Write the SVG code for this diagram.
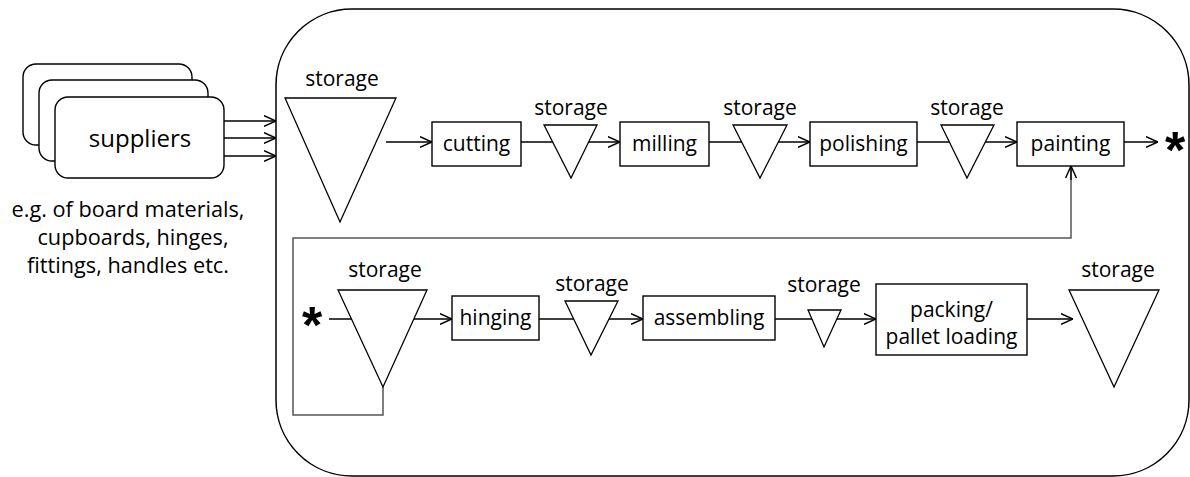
<svg xmlns="http://www.w3.org/2000/svg" width="1190" height="477" viewBox="0 0 1190 477">
<defs>
<marker id="arr" markerWidth="12" markerHeight="12" refX="10" refY="5" orient="auto" markerUnits="userSpaceOnUse" viewBox="0 0 10 10">
<path d="M0,0.5 L10,5 L0,9.5" fill="none" stroke="#000" stroke-width="1.2"/>
</marker>
</defs>
<style>
text{font-family:"Open Sans","Liberation Sans",sans-serif;fill:#000;text-anchor:middle}
.lbl{font-size:21px}
.cap{font-size:21.7px}
.box{fill:#fff;stroke:#000;stroke-width:1.4}
.tri{fill:#fff;stroke:#000;stroke-width:1.3}
.sup{fill:#fff;stroke:#000;stroke-width:1.4}
.ln{fill:none;stroke:#000;stroke-width:1.3}
.loop{fill:none;stroke:#555;stroke-width:1.5}
.star{font-family:"Liberation Sans",sans-serif;font-weight:bold;font-size:52px}
</style>
<rect id="plant" x="276" y="9" width="913" height="467" rx="76" ry="76" fill="#fff" stroke="#000" stroke-width="1.5"/>
<g id="connectors">
<line class="ln" x1="224" y1="121" x2="276" y2="121" marker-end="url(#arr)"/>
<line class="ln" x1="224" y1="138" x2="276" y2="138" marker-end="url(#arr)"/>
<line class="ln" x1="224" y1="156" x2="276" y2="156" marker-end="url(#arr)"/>
<line class="ln" x1="386" y1="142" x2="432" y2="142" marker-end="url(#arr)"/>
<line class="ln" x1="521" y1="142" x2="620" y2="142" marker-end="url(#arr)"/>
<line class="ln" x1="709" y1="142" x2="810" y2="142" marker-end="url(#arr)"/>
<line class="ln" x1="917" y1="142" x2="1017" y2="142" marker-end="url(#arr)"/>
<line class="ln" x1="1124" y1="142" x2="1158" y2="142" marker-end="url(#arr)"/>
<polyline class="loop" points="383,387 383,415 293,415 293,238 1071,238 1071,167"/>
<line class="ln" x1="1071" y1="180" x2="1071" y2="166" marker-end="url(#arr)"/>
<line class="ln" x1="329" y1="319" x2="452" y2="319" marker-end="url(#arr)"/>
<line class="ln" x1="539" y1="319" x2="643" y2="319" marker-end="url(#arr)"/>
<line class="ln" x1="775" y1="319" x2="876" y2="319" marker-end="url(#arr)"/>
<line class="ln" x1="1027" y1="319" x2="1073" y2="319" marker-end="url(#arr)"/>
</g>
<g id="suppliers">
<rect class="sup" x="23" y="64" width="169" height="81" rx="13"/>
<rect class="sup" x="39" y="80" width="169" height="81" rx="13"/>
<rect class="sup" x="55" y="97" width="169" height="81" rx="13"/>
<text x="140" y="147" style="font-size:24px">suppliers</text>
</g>
<g id="caption">
<text class="cap" x="128" y="217">e.g. of board materials,</text>
<text class="cap" x="133" y="245">cupboards, hinges,</text>
<text class="cap" x="128" y="273">fittings, handles etc.</text>
</g>
<g id="storage1">
<text class="lbl" x="342" y="86">storage</text>
<polygon class="tri" points="285,98 396,98 340,222"/>
</g>
<g id="cutting">
<rect class="box" x="432" y="122" width="89" height="44"/>
<text class="lbl" x="476.5" y="151">cutting</text>
</g>
<g id="storage2">
<text class="lbl" x="571" y="115">storage</text>
<polygon class="tri" points="544,125 597,125 571,178"/>
</g>
<g id="milling">
<rect class="box" x="620" y="122" width="89" height="44"/>
<text class="lbl" x="664.5" y="151">milling</text>
</g>
<g id="storage3">
<text class="lbl" x="760" y="115">storage</text>
<polygon class="tri" points="733,125 787,125 760,178"/>
</g>
<g id="polishing">
<rect class="box" x="810" y="122" width="107" height="44"/>
<text class="lbl" x="863.5" y="151">polishing</text>
</g>
<g id="storage4">
<text class="lbl" x="967" y="115">storage</text>
<polygon class="tri" points="941,125 994,125 967,178"/>
</g>
<g id="painting">
<rect class="box" x="1017" y="122" width="107" height="44"/>
<text class="lbl" x="1070.5" y="151">painting</text>
</g>
<g id="star1"><text class="star" x="1175" y="168">*</text></g>
<g id="star2"><text class="star" x="312" y="343">*</text></g>
<g id="storage5">
<text class="lbl" x="385" y="277">storage</text>
<polygon class="tri" points="338,290 427,290 383,387"/>
</g>
<g id="hinging">
<rect class="box" x="452" y="296" width="87" height="44"/>
<text class="lbl" x="495.5" y="325">hinging</text>
</g>
<g id="storage6">
<text class="lbl" x="592" y="291">storage</text>
<polygon class="tri" points="565,301 618,301 591,355"/>
</g>
<g id="assembling">
<rect class="box" x="643" y="296" width="132" height="44"/>
<text class="lbl" x="709" y="325">assembling</text>
</g>
<g id="storage7">
<text class="lbl" x="824" y="292">storage</text>
<polygon class="tri" points="808,310 841,310 824,347"/>
</g>
<g id="packing">
<rect class="box" x="876" y="284" width="151" height="71"/>
<text class="lbl" x="951.5" y="317">packing/</text>
<text class="lbl" x="951.5" y="344">pallet loading</text>
</g>
<g id="storage8">
<text class="lbl" x="1118" y="277">storage</text>
<polygon class="tri" points="1069,290 1159,290 1114,387"/>
</g>
</svg>
